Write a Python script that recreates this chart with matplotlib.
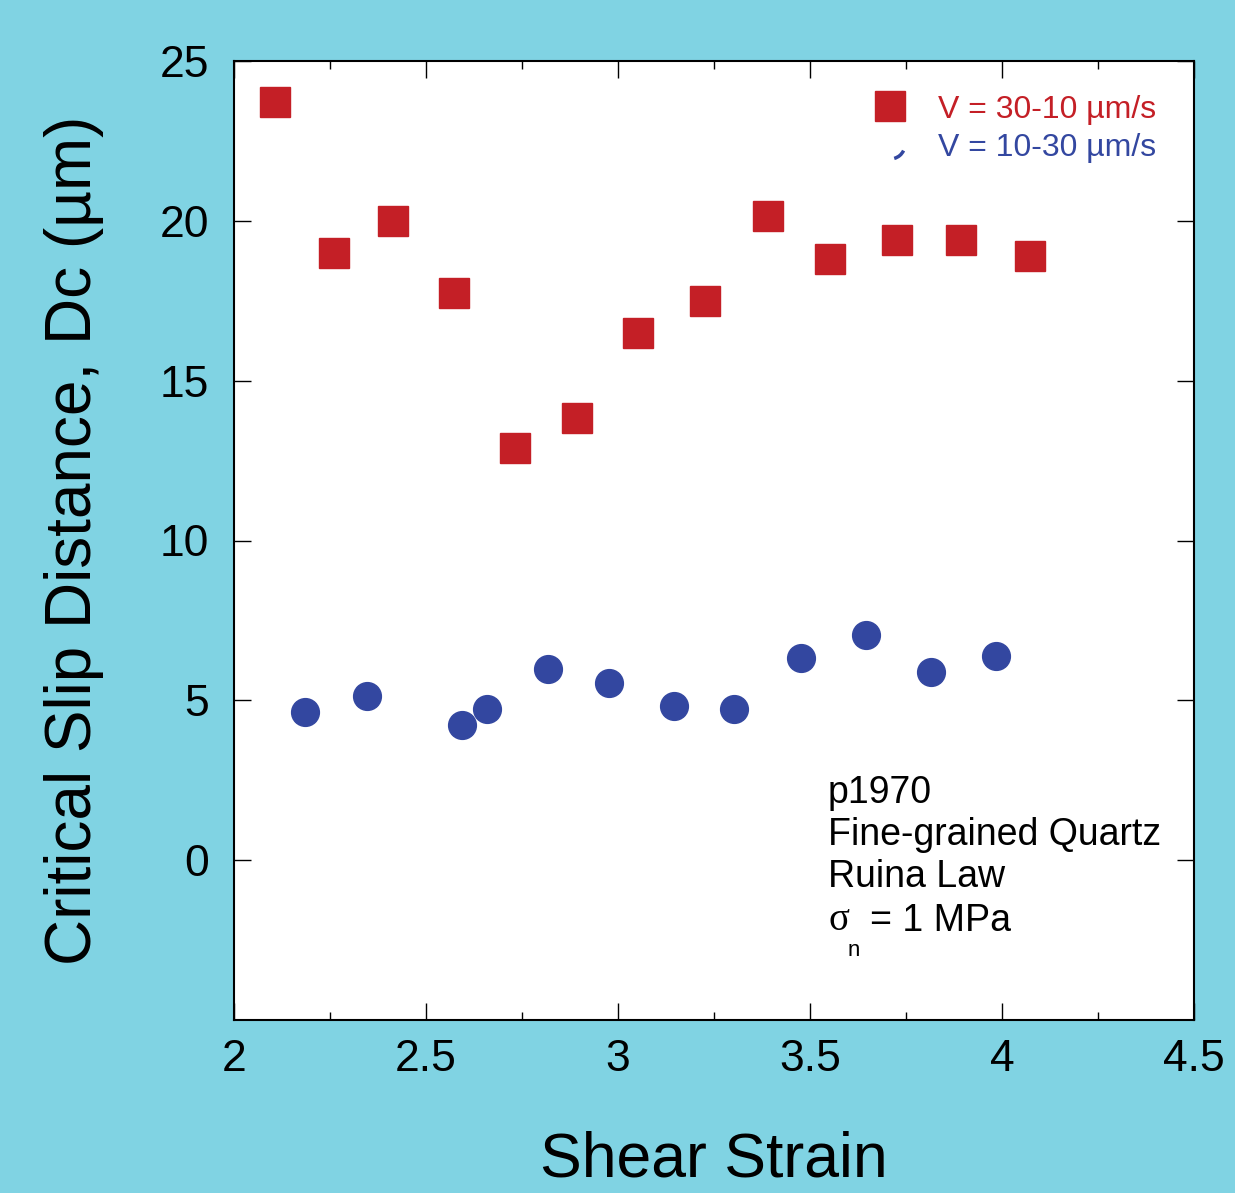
import numpy as np
import matplotlib.pyplot as plt
from matplotlib.path import Path
from matplotlib.lines import Line2D
from matplotlib.ticker import MultipleLocator

# data
strain_down = [2.107, 2.260, 2.414, 2.573, 2.732, 2.893, 3.052, 3.227, 3.391, 3.552, 3.727, 3.893, 4.073]
dc_down = [23.71, 18.99, 19.99, 17.74, 12.89, 13.83, 16.49, 17.49, 20.15, 18.80, 19.40, 19.40, 18.90]

strain_up = [2.185, 2.346, 2.594, 2.659, 2.818, 2.977, 3.146, 3.302, 3.477, 3.646, 3.815, 3.984]
dc_up = [4.63, 5.13, 4.23, 4.73, 5.98, 5.54, 4.82, 4.73, 6.32, 7.04, 5.89, 6.39]

label_down = 'V = 30-10 µm/s'
label_up = 'V = 10-30 µm/s'
notes = ['p1970', 'Fine-grained Quartz', 'Ruina Law']

bg = '#80D3E3'
red = '#C41F26'
blue = '#3347A0'

plt.rcParams['font.family'] = ['Liberation Sans', 'DejaVu Sans']

fig = plt.figure(figsize=(12.35, 11.93), dpi=100, facecolor=bg)
W, H = 1235, 1193
ax = fig.add_axes([234/W, (H-1020)/H, 960/W, 959/H])
ax.set_facecolor('white')

ax.plot(strain_down, dc_down, 's', color=red, markersize=21.5, linestyle='none')
ax.plot(strain_up, dc_up, 'o', color=blue, markersize=20, linestyle='none')

ax.set_xlim(2, 4.5)
ax.set_ylim(-5, 25)
ax.xaxis.set_minor_locator(MultipleLocator(0.25))
ax.set_yticks([0, 5, 10, 15, 20, 25])
ax.set_xticks([2, 2.5, 3, 3.5, 4, 4.5])
ax.set_xticklabels(['2', '2.5', '3', '3.5', '4', '4.5'])

ax.tick_params(axis='both', which='major', direction='in', length=12, width=1,
               labelsize=32, top=True, right=True)
ax.tick_params(axis='x', which='minor', direction='in', length=6, width=1, top=True)
ax.tick_params(axis='x', which='major', pad=14)
ax.tick_params(axis='y', which='major', pad=18)
for s in ax.spines.values():
    s.set_linewidth(1.5)

ax.set_xlabel('Shear Strain', fontsize=45, labelpad=36)
ax.set_ylabel('Critical Slip Distance, Dc (µm)', fontsize=46, labelpad=40)

# legend: the circle marker in the original is only a little arc
arc = Path.arc(285, 335)
handles = [Line2D([], [], marker='s', color=red, markersize=21.5, linestyle='none'),
           Line2D([], [], marker=arc, color=blue, markersize=20, markeredgewidth=2.5,
                  markerfacecolor='none', linestyle='none')]
leg = ax.legend(handles, [label_down, label_up], loc='upper right', frameon=False,
                fontsize=23, handletextpad=0.5, labelspacing=0.25,
                bbox_to_anchor=(0.99, 0.995))
leg.get_texts()[0].set_color(red)
leg.get_texts()[1].set_color(blue)

# annotation block
x0 = (828-234)/960
ys = [793, 835, 877]
for t, yp in zip(notes, ys):
    ax.text(x0, (1020-yp)/959, t, transform=ax.transAxes, fontsize=27, va='center', ha='left')
ax.text(x0, (1020-921)/959, 'σ', transform=ax.transAxes, fontsize=28, va='center',
        ha='left', family=['Liberation Serif', 'DejaVu Serif'])
ax.text((848-234)/960, (1020-950)/959, 'n', transform=ax.transAxes, fontsize=16,
        va='center', ha='left')
ax.text((870-234)/960, (1020-921)/959, '= 1 MPa', transform=ax.transAxes, fontsize=27,
        va='center', ha='left')

fig.savefig('out.png', dpi=100, facecolor=bg)
